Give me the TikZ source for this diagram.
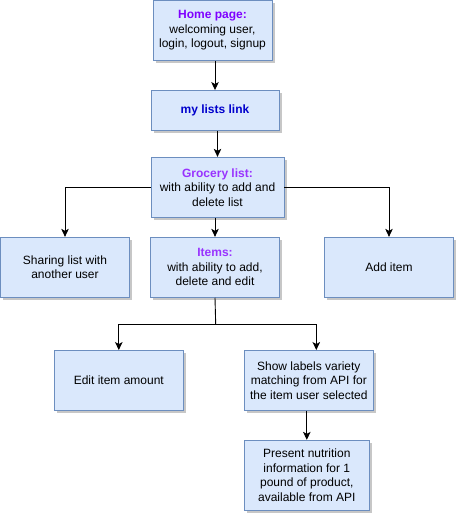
\documentclass[tikz,border=0pt]{standalone}
\usepackage{fontspec}
\setmainfont{Liberation Sans}
\usetikzlibrary{arrows.meta,shadows,calc}
\definecolor{boxfill}{HTML}{DAE8FC}
\definecolor{boxline}{HTML}{6C8EBF}
\definecolor{ttlpurple}{HTML}{7F00FF}
\definecolor{ttllilac}{HTML}{9933FF}
\definecolor{ttlblue}{HTML}{0000CC}
\tikzset{
  card/.style={draw=boxline, fill=boxfill, line width=0.9pt, align=center,
    inner sep=2pt, font=\fontsize{12}{14.5}\selectfont,
    drop shadow={shadow xshift=2.5pt, shadow yshift=-2.5pt, opacity=0.22, fill=black}},
  arr/.style={line width=0.9pt, -{Stealth[length=8pt,width=7.5pt,inset=2pt]}},
}
\begin{document}
\begin{tikzpicture}[x=1pt,y=-1pt]
\useasboundingbox (0,0) rectangle (460,517);
\node[card, minimum width=119pt, minimum height=60pt] (home) at (212.5,30.5)
  {\textcolor{ttlpurple}{\textbf{Home page:}}\\welcoming user,\\login, logout, signup};
\node[card, minimum width=128pt, minimum height=40pt] (mylists) at (215,110.5)
  {\textcolor{ttlblue}{\textbf{my lists link}}};
\node[card, minimum width=133pt, minimum height=60pt] (grocery) at (217.5,187.3)
  {\textcolor{ttllilac}{\textbf{Grocery list:}}\\with ability to add and\\delete list};
\node[card, minimum width=128.5pt, minimum height=60pt] (sharing) at (65,267.3)
  {Sharing list with\\another user};
\node[card, minimum width=128.5pt, minimum height=60pt] (items) at (215,267.3)
  {\textcolor{ttllilac}{\textbf{Items:}}\\with ability to add,\\delete and edit};
\node[card, minimum width=129pt, minimum height=60pt] (additem) at (389,267.3)
  {Add item};
\node[card, minimum width=129pt, minimum height=60pt] (edit) at (118.8,380.5)
  {Edit item amount};
\node[card, minimum width=129pt, minimum height=60pt] (show) at (308.8,380.5)
  {Show labels variety\\matching from API for\\the item user selected};
\node[card, minimum width=125pt, minimum height=70pt] (present) at (306.8,475.3)
  {Present nutrition\\information for 1\\pound of product,\\available from API};
\coordinate (split) at (215.7,324.3);
\draw[arr] (mylists.north |- home.south) -- (mylists.north);
\draw[arr] (grocery.north |- mylists.south) -- (grocery.north);
\draw[arr] (grocery.west) -| (sharing.north);
\draw[arr] (grocery.east) -| (additem.north);
\draw[arr] (items.north |- grocery.south) -- (items.north);
\draw[line width=0.9pt] (items.south) -- (split);
\draw[arr] (split) -| (edit.north);
\draw[arr] (split) -| ([xshift=7.5pt]show.north);
\draw[arr] (present.north |- show.south) -- (present.north);
\end{tikzpicture}
\end{document}
